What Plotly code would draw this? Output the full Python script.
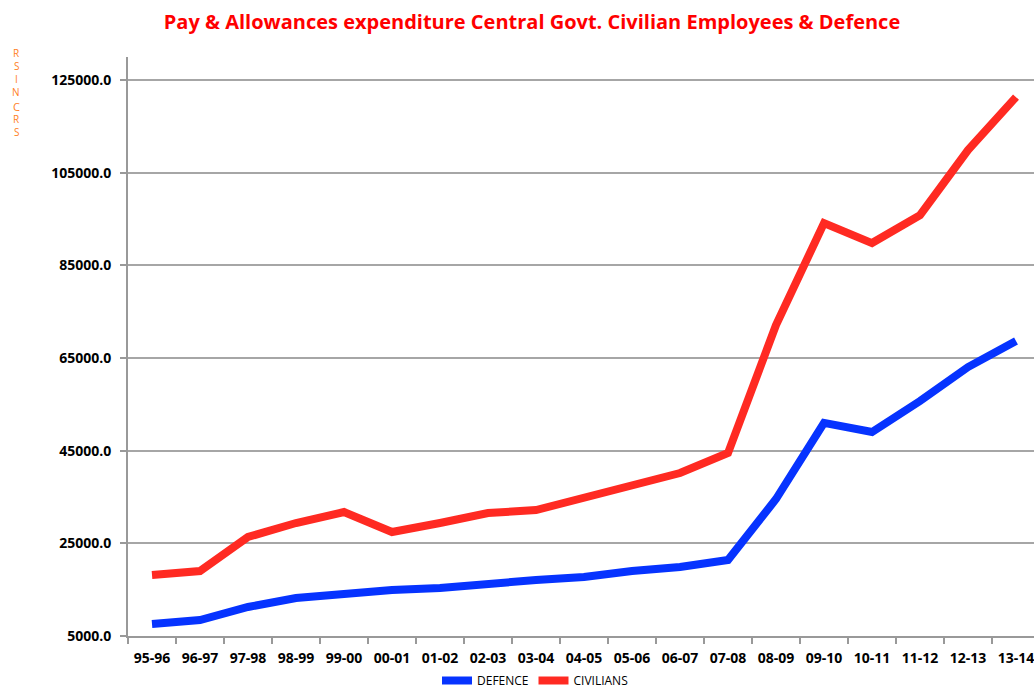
import plotly.graph_objects as go

years = ["95-96", "96-97", "97-98", "98-99", "99-00", "00-01", "01-02", "02-03", "03-04",
         "04-05", "05-06", "06-07", "07-08", "08-09", "09-10", "10-11", "11-12", "12-13", "13-14"]
defence = [7600, 8450, 11260, 13200, 14060, 14930, 15360, 16440, 17090,
           17730, 19030, 19890, 21400, 34570, 51000, 49030, 55720, 63060, 68670]
civilians = [18170, 19030, 26370, 29390, 31760, 27450, 29390, 31550, 32200,
             35000, 37590, 40180, 44500, 72130, 94140, 89830, 95870, 109900, 121340]
ytickvals = [5000, 25000, 45000, 65000, 85000, 105000, 125000]
yticktext = ["5000.0", "25000.0", "45000.0", "65000.0", "85000.0", "105000.0", "125000.0"]
ylabel_letters = ["R", "S", "I", "N", "C", "R", "S"]

fig = go.Figure()
fig.add_trace(go.Scatter(x=years, y=defence, name="DEFENCE", mode="lines",
                         line=dict(color="#0633ff", width=8)))
fig.add_trace(go.Scatter(x=years, y=civilians, name="CIVILIANS", mode="lines",
                         line=dict(color="#ff2a22", width=8)))

# vertical stacked y-axis label
letter_y = [53, 66, 79, 92, 106, 119, 132]
annotations = []
for ch, py in zip(ylabel_letters, letter_y):
    annotations.append(dict(text=ch, xref="paper", yref="paper",
                            x=(16 - 128) / 906, y=(636 - py) / 579,
                            xanchor="center", yanchor="middle", showarrow=False,
                            font=dict(size=11 if ch == "C" else 10, color="#ff7f1e",
                                      family="Open Sans")))

fig.update_layout(
    width=1034, height=695,
    margin=dict(l=128, r=0, t=57, b=59),
    plot_bgcolor="white", paper_bgcolor="white",
    font=dict(family="Open Sans", color="black"),
    title=dict(text="<b>Pay & Allowances expenditure Central Govt. Civilian Employees & Defence</b>",
               x=532 / 1034, xanchor="center", y=1 - 22 / 695, yanchor="middle",
               font=dict(size=20, color="#ff0000", family="Open Sans")),
    showlegend=True,
    legend=dict(orientation="h", x=(535 - 128) / 906, xanchor="center", yref="container",
                y=0.0, yanchor="bottom", font=dict(size=12, color="black"), itemwidth=30,
                tracegroupgap=0),
    annotations=annotations,
)

fig.update_xaxes(
    type="category", range=[-0.5, -0.5 + 906 / 48],
    showline=True, linecolor="#999999", linewidth=2,
    ticks="outside", tickson="boundaries", ticklen=6, tickcolor="#999999", tickwidth=2,
    showgrid=False, tickfont=dict(size=14, family="Open Sans", color="black", weight="bold"),
    ticklabelstandoff=8,
)
fig.update_yaxes(
    range=[5000, 130000], tickvals=ytickvals, ticktext=yticktext,
    showline=True, linecolor="#999999", linewidth=2,
    ticks="outside", ticklen=6, tickcolor="#999999", tickwidth=2,
    showgrid=True, gridcolor="#a6a6a6", gridwidth=1.5, zeroline=False,
    tickfont=dict(size=14, family="Open Sans", color="black", weight="bold"),
    ticklabelstandoff=6,
)

fig.write_html("out.html")
